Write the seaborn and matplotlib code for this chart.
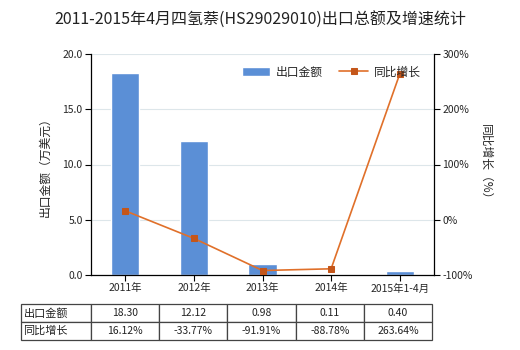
import numpy as np
import pandas as pd
import matplotlib
matplotlib.use("Agg")
import matplotlib.pyplot as plt
import seaborn as sns
from matplotlib.ticker import FuncFormatter, MultipleLocator

sns.set_theme(style="white")
plt.rcParams['font.family'] = ['Noto Sans CJK SC', 'DejaVu Sans']
plt.rcParams['axes.unicode_minus'] = False

categories = ["2011年", "2012年", "2013年", "2014年", "2015年1-4月"]
export_value = [18.30, 12.12, 0.98, 0.11, 0.40]
growth_rate = [16.12, -33.77, -91.91, -88.78, 263.64]
value_labels = ["18.30", "12.12", "0.98", "0.11", "0.40"]
growth_labels = ["16.12%", "-33.77%", "-91.91%", "-88.78%", "263.64%"]

title = "2011-2015年4月四氢萘(HS29029010)出口总额及增速统计"
bar_name = "出口金额"
line_name = "同比增长"

bar_color = "#5B8FD6"
line_color = "#E0702A"
marker_color = "#C4561A"

fig = plt.figure(figsize=(5.2, 3.5), dpi=100)
ax = fig.add_axes([91 / 520, 1 - 275 / 350, 343 / 520, 221 / 350])

df = pd.DataFrame({"cat": categories, "value": export_value})
sns.barplot(data=df, x="cat", y="value", ax=ax, color=bar_color,
            saturation=1, width=0.41, label=bar_name)

ax.set_ylim(0, 20)
ax.yaxis.set_major_locator(MultipleLocator(5))
ax.yaxis.set_major_formatter(FuncFormatter(lambda v, p: f"{v:.1f}"))
ax.set_xlim(-0.5, 4.5)
ax.grid(axis="y", color="#dde6ea", linewidth=0.8)
ax.set_axisbelow(True)
ax.set_xlabel("")
ax.set_ylabel("出口金额（万美元）", fontsize=8.5, labelpad=8)
for s in ["left", "bottom"]:
    ax.spines[s].set_color("black")
    ax.spines[s].set_linewidth(0.9)
ax.spines["top"].set_visible(False)
ax.spines["right"].set_visible(False)
ax.tick_params(axis="both", labelsize=7.5, length=4, width=0.8, color="black",
               direction="out", pad=2, left=True, bottom=True)

ax2 = ax.twinx()
sns.lineplot(x=np.arange(len(categories)), y=growth_rate, ax=ax2,
             color=line_color, linewidth=1.2, marker="s", markersize=5,
             markerfacecolor=marker_color, markeredgecolor=marker_color,
             label=line_name, legend=False)
ax2.set_ylim(-100, 300)
ax2.yaxis.set_major_locator(MultipleLocator(100))
ax2.yaxis.set_major_formatter(FuncFormatter(lambda v, p: f"{int(v)}%"))
ax2.set_ylabel("同比增长（%）", fontsize=8.5, rotation=-90, labelpad=14)
ax2.grid(False)
for s in ["left", "top", "bottom"]:
    ax2.spines[s].set_visible(False)
ax2.spines["right"].set_color("black")
ax2.spines["right"].set_linewidth(0.9)
ax2.tick_params(axis="y", labelsize=7.5, length=4, width=0.8, color="black",
                direction="out", pad=2, right=True)

h1, l1 = ax.get_legend_handles_labels()
h2, l2 = ax2.get_legend_handles_labels()
if ax.get_legend() is not None:
    ax.get_legend().remove()
if ax2.get_legend() is not None:
    ax2.get_legend().remove()
ax2.legend(h1 + h2, l1 + l2, loc="center", bbox_to_anchor=(0.70, 0.918),
           ncol=2, frameon=False, fontsize=8.5, handlelength=2.4,
           handleheight=0.9, columnspacing=1.4, handletextpad=0.5)

fig.suptitle(title, x=0.5, y=0.965, fontsize=11.5, color="#222222")

cell_text = [[bar_name] + value_labels, [line_name] + growth_labels]
tbl = ax.table(cellText=cell_text, cellLoc="center",
               colWidths=[70] + [68.5] * 5,
               bbox=[-70.3 / 343, -65 / 221, 411.6 / 343, 36 / 221])
tbl.auto_set_font_size(False)
tbl.set_fontsize(7.5)
for (r, c), cell in tbl.get_celld().items():
    cell.set_edgecolor("#444444")
    cell.set_linewidth(0.9)
    cell.get_text().set_color("#222222")
    if c == 0:
        cell.PAD = 0.04
        cell.get_text().set_horizontalalignment("left")
        cell.get_text().set_fontsize(8)

fig.savefig("out.png", dpi=100)
